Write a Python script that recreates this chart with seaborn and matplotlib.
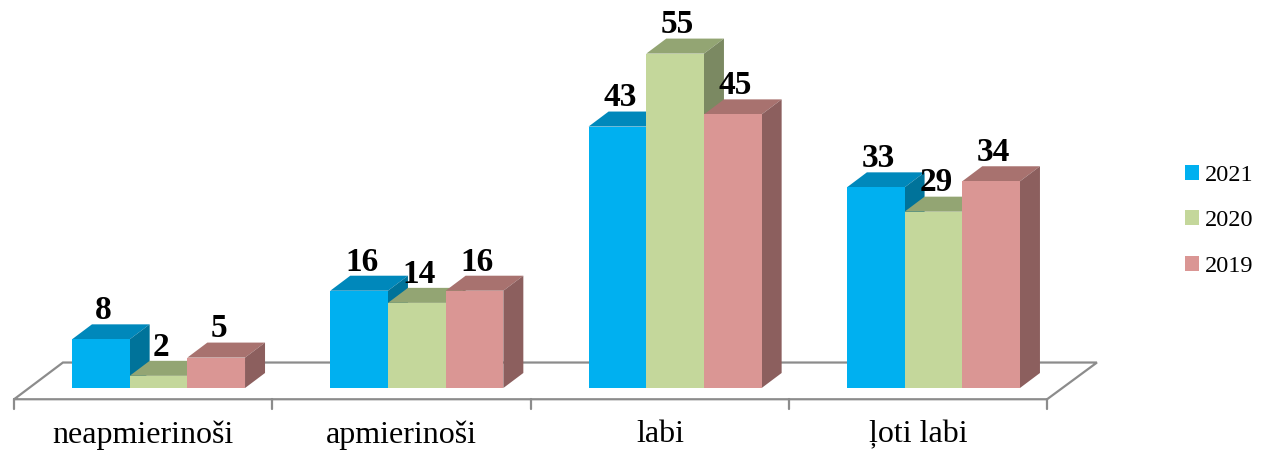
import matplotlib
matplotlib.use("Agg")
import matplotlib.pyplot as plt
import seaborn as sns
import pandas as pd
from matplotlib.patches import Polygon, Patch

# ---------------- DATA ----------------

categories = ["neapmierinoši", "apmierinoši", "labi", "ļoti labi"]
years = ["2021", "2020", "2019"]
vals_2021 = [8, 16, 43, 33]
vals_2020 = [2, 14, 55, 29]
vals_2019 = [5, 16, 45, 34]

front_cols = ["#00B0F0", "#C4D79B", "#DA9694"]
top_cols = ["#0088BB", "#93A573", "#A8726F"]
side_cols = ["#00739A", "#7B8962", "#8C5F5E"]

df = pd.DataFrame({
    "cat": categories * 3,
    "year": [y for y in years for _ in categories],
    "val": vals_2021 + vals_2020 + vals_2019,
})

sns.set_style("white")
plt.rcParams["font.family"] = ["Liberation Serif", "DejaVu Serif"]
plt.rcParams["text.color"] = "black"

fig = plt.figure(figsize=(12.62, 4.54), dpi=100)
ax = fig.add_axes([0, 0, 1, 1])

sns.barplot(data=df, x="cat", y="val", hue="year", hue_order=years,
            palette=front_cols, width=0.67, gap=0, legend=False, ax=ax,
            linewidth=0, saturation=1)

ax.set_xlim(-0.6136, 4.272)
ax.set_ylim(-10.855, 63.816)
ax.axis("off")

# depth of the 3d look (data units)
dx, dy = 0.0774, 2.47

# ---------------- 3D FACES ----------------
bars = []
for h, cont in enumerate(ax.containers):
    for g, p in enumerate(cont.patches):
        bars.append((g, h, p))
bars.sort(key=lambda t: (t[0], t[1]))

for k, (g, h, p) in enumerate(bars):
    x, w, v = p.get_x(), p.get_width(), p.get_height()
    z = 10 + 2 * k
    p.set_zorder(z + 1)
    top = Polygon([(x, v), (x + w, v), (x + w + dx, v + dy), (x + dx, v + dy)],
                  closed=True, fc=top_cols[h], ec="none", zorder=z)
    side = Polygon([(x + w, 0), (x + w + dx, dy), (x + w + dx, v + dy), (x + w, v)],
                   closed=True, fc=side_cols[h], ec="none", zorder=z)
    ax.add_patch(top)
    ax.add_patch(side)
    ax.text(x + w / 2 + 0.01, v + dy - 0.3, f"{v:g}", ha="center", va="bottom",
            fontsize=24, fontweight="bold", color="black", zorder=100)

# ---------------- FLOOR ----------------
fl, fr, fy = -0.559, 3.440, -1.85
bl, br, by = -0.370, 3.633, 4.19
ax.plot([fl, fr, br, bl, fl], [fy, fy, by, by, fy], color="#8C8C8C", lw=1.6,
        zorder=1, solid_joinstyle="miter")
for i in range(len(categories) + 1):
    ax.plot([fl + i, fl + i], [fy, fy - 1.6], color="#8C8C8C", lw=1.6, zorder=1)

for i, c in enumerate(categories):
    ax.text(fl + i + 0.5, -7.7, c, ha="center", va="center", fontsize=23, color="black")

# ---------------- LEGEND ----------------
handles = [Patch(fc=c, ec="none") for c in front_cols]
fig.legend(handles, years, loc="upper left", bbox_to_anchor=(1185 / 1262, 1 - 165 / 454),
           frameon=False, fontsize=17.5, handlelength=0.57, handleheight=0.57,
           handletextpad=0.25, labelspacing=1.0, borderaxespad=0, borderpad=0)

fig.savefig("out.png", dpi=100)
